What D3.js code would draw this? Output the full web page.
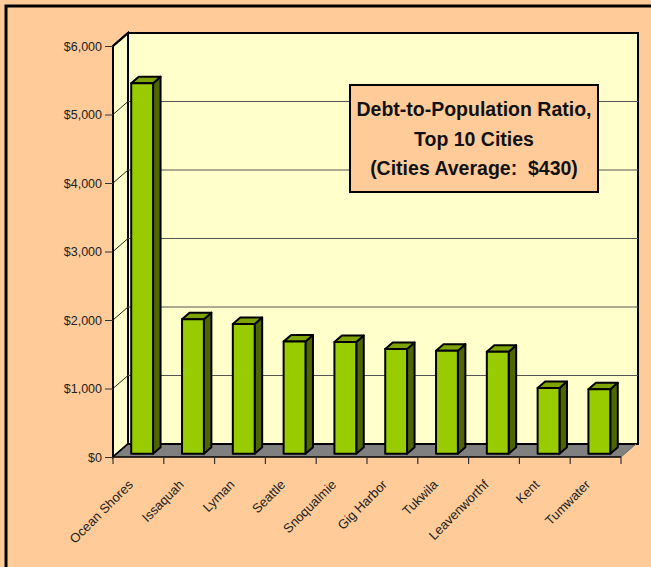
<!DOCTYPE html>
<html><head><meta charset="utf-8">
<script src="https://cdn.jsdelivr.net/npm/d3@7"></script>
<style>body{margin:0;background:#FFCC99;}svg{display:block;}</style>
</head><body>
<svg id="c" width="651" height="567"></svg>
<script>
const cities = ["Ocean Shores","Issaquah","Lyman","Seattle","Snoqualmie","Gig Harbor","Tukwila","Leavenworthf","Kent","Tumwater"];
const debtPerCapita = [5410, 1965, 1895, 1640, 1630, 1530, 1505, 1490, 960, 940];
const yTicks = [0,1000,2000,3000,4000,5000,6000];
const titleLines = ["Debt-to-Population Ratio,","Top 10 Cities","(Cities Average:  $430)"];

const svg = d3.select("#c");
const X0 = 113, X1 = 621, Y0 = 457, YT = 46;
const DX = 15, DY = -13;
const x = d3.scaleBand().domain(cities).range([X0, X1]);
const y = d3.scaleLinear().domain([0, 6000]).range([Y0, YT]);
const fmt = v => "$" + d3.format(",")(v);

svg.append("rect").attr("width",651).attr("height",567).attr("fill","#FFCC99");
svg.append("rect").attr("x",6).attr("y",6).attr("width",700).attr("height",700)
  .attr("fill","none").attr("stroke","#000").attr("stroke-width",3);

// walls
const line = d3.line();
svg.append("path").attr("d", line([[X0,Y0],[X0,YT],[X0+DX,YT+DY],[X0+DX,Y0+DY]])+"Z")
  .attr("fill","#FFFFCC").attr("stroke","#000").attr("stroke-width",2);
svg.append("path").attr("d", line([[X0+DX,Y0+DY],[X0+DX,YT+DY],[X1+DX+2,YT+DY],[X1+DX+2,Y0+DY]])+"Z")
  .attr("fill","#FFFFCC").attr("stroke","#000").attr("stroke-width",2);

// gridlines
yTicks.filter(t=>t>0 && t<6000).forEach(t=>{
  svg.append("line").attr("x1",X0+DX).attr("x2",X1+DX+2).attr("y1",y(t)+DY).attr("y2",y(t)+DY)
    .attr("stroke","#555").attr("stroke-width",1);
  svg.append("line").attr("x1",X0).attr("x2",X0+DX).attr("y1",y(t)).attr("y2",y(t)+DY)
    .attr("stroke","#222").attr("stroke-width",1);
});

// floor
svg.append("path").attr("d", line([[X0,Y0],[X0+DX,Y0+DY],[X1+DX,Y0+DY],[X1,Y0]])+"Z")
  .attr("fill","#808080").attr("stroke","none");
svg.append("line").attr("x1",X0).attr("x2",X0+DX).attr("y1",Y0).attr("y2",Y0+DY).attr("stroke","#000").attr("stroke-width",1.5);
svg.append("line").attr("x1",X0+DX).attr("x2",X1+DX+2).attr("y1",Y0+DY).attr("y2",Y0+DY).attr("stroke","#000").attr("stroke-width",2);
svg.append("line").attr("x1",X1).attr("x2",X1+DX).attr("y1",Y0).attr("y2",Y0+DY).attr("stroke","#666").attr("stroke-width",1);

// bars
const bw = x.bandwidth()*0.43;
const f0 = 0.25, f1 = 0.75;
const bars = svg.append("g");
cities.forEach((c,i)=>{
  const v = debtPerCapita[i];
  const xl = x(c) + x.bandwidth()/2 - bw/2 + DX*f0;
  const xr = xl + bw;
  const yb = Y0 + DY*f0, yt = y(v) + DY*f0;
  const ddx = DX*(f1-f0), ddy = DY*(f1-f0);
  const g = bars.append("g").attr("stroke","#000").attr("stroke-width",2).attr("stroke-linejoin","round");
  g.append("path").attr("d", line([[xr,yb],[xr,yt],[xr+ddx,yt+ddy],[xr+ddx,yb+ddy]])+"Z").attr("fill","#4D6600");
  g.append("path").attr("d", line([[xl,yt],[xl+ddx,yt+ddy],[xr+ddx,yt+ddy],[xr,yt]])+"Z").attr("fill","#7FA300");
  g.append("rect").attr("x",xl).attr("y",yt).attr("width",bw).attr("height",yb-yt).attr("fill","#99CC00");
});

// axes
svg.append("line").attr("x1",X0).attr("x2",X0).attr("y1",Y0).attr("y2",YT).attr("stroke","#000").attr("stroke-width",2);
svg.append("line").attr("x1",X0).attr("x2",X1).attr("y1",Y0).attr("y2",Y0).attr("stroke","#000").attr("stroke-width",1.5);
svg.append("line").attr("x1",X0).attr("x2",X0+DX).attr("y1",YT).attr("y2",YT+DY).attr("stroke","#000").attr("stroke-width",2);

const yAxis = d3.axisLeft(y).tickValues(yTicks).tickFormat(fmt).tickSize(8).tickPadding(3);
const ga = svg.append("g").attr("transform",`translate(${X0},0)`).call(yAxis);
ga.select(".domain").remove();
ga.selectAll("line").attr("stroke","#333");
ga.selectAll("text").attr("font-family","Liberation Sans, Arial, sans-serif").attr("font-size",12.5).attr("fill","#222");

// x ticks
const xt = cities.map(c=>x(c)).concat([X1]);
xt.forEach(t=>{
  svg.append("line").attr("x1",t).attr("x2",t).attr("y1",Y0).attr("y2",Y0+7).attr("stroke","#333").attr("stroke-width",1.2);
});
svg.append("g").selectAll("text").data(cities).join("text")
  .attr("transform", c=>`translate(${x(c)+x.bandwidth()/2-11},${Y0+22}) rotate(-45)`)
  .attr("text-anchor","end").attr("dy","0.7em")
  .attr("font-family","Liberation Sans, Arial, sans-serif").attr("font-size",13).attr("fill","#222")
  .text(d=>d);

// title box
svg.append("rect").attr("x",350).attr("y",85).attr("width",248).attr("height",107)
  .attr("fill","#FFCC99").attr("stroke","#000").attr("stroke-width",2);
svg.append("g").selectAll("text").data(titleLines).join("text")
  .attr("x",474).attr("y",(d,i)=>116+i*29.5).attr("text-anchor","middle")
  .style("white-space","pre")
  .attr("font-family","Liberation Sans, Arial, sans-serif").attr("font-weight","bold").attr("font-size",19.5).attr("fill","#111")
  .text(d=>d);
</script>
</body></html>
